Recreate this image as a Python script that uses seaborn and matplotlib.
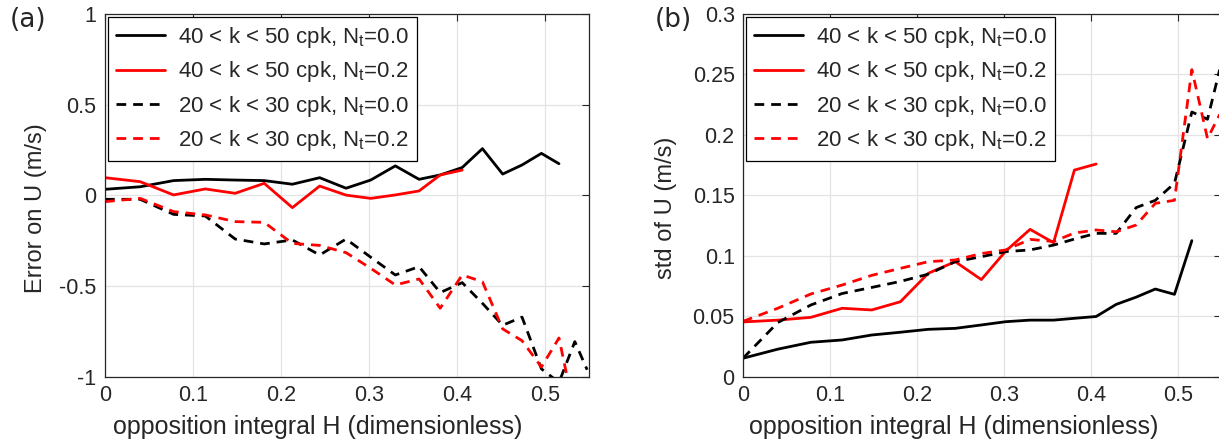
import matplotlib
matplotlib.use("Agg")
import matplotlib.pyplot as plt
import seaborn as sns

# H bin centres (opposition integral)
h_grid = [0.0, 0.040, 0.078, 0.114, 0.148, 0.181, 0.213, 0.244, 0.274, 0.302, 0.330,
          0.357, 0.381, 0.406, 0.429, 0.452, 0.474, 0.496, 0.516, 0.534, 0.548]

# (a) error on U
err_k40_n0 = [0.034, 0.048, 0.082, 0.089, 0.085, 0.082, 0.062, 0.098, 0.040, 0.085, 0.163,
              0.089, 0.113, 0.154, 0.258, 0.118, 0.168, 0.232, 0.175]
err_k40_n2 = [0.098, 0.076, 0.003, 0.036, 0.012, 0.067, -0.067, 0.052, 0.002, -0.016, 0.003,
              0.025, 0.113, 0.140]
err_k20_n0 = [-0.021, -0.021, -0.104, -0.113, -0.240, -0.267, -0.245, -0.328, -0.240, -0.340,
              -0.438, -0.392, -0.535, -0.480, -0.594, -0.715, -0.670, -0.955, -1.03, -0.805, -0.96]
err_k20_n2 = [-0.034, -0.016, -0.089, -0.107, -0.144, -0.148, -0.264, -0.275, -0.315, -0.401,
              -0.493, -0.460, -0.621, -0.438, -0.475, -0.735, -0.800, -0.945, -0.785, -1.2]

# (b) std of U
std_k40_n0 = [0.0155, 0.023, 0.0287, 0.0306, 0.0347, 0.037, 0.0394, 0.0402, 0.043, 0.0457, 0.047,
              0.047, 0.0485, 0.050, 0.060, 0.066, 0.0727, 0.0683, 0.1127]
std_k40_n2 = [0.0455, 0.047, 0.0493, 0.0568, 0.0554, 0.0622, 0.0857, 0.0953, 0.0805, 0.1040,
              0.1220, 0.1110, 0.171, 0.176]
std_k20_n0 = [0.0155, 0.045, 0.0595, 0.069, 0.074, 0.079, 0.085, 0.0953, 0.0994, 0.1036, 0.105,
              0.109, 0.114, 0.1187, 0.1187, 0.140, 0.146, 0.160, 0.219, 0.213, 0.254]
std_k20_n2 = [0.046, 0.0568, 0.0686, 0.076, 0.084, 0.0898, 0.0953, 0.0967, 0.102, 0.105, 0.1137,
              0.112, 0.119, 0.1215, 0.120, 0.1256, 0.1435, 0.146, 0.254, 0.197, 0.217]

labels = ["40 < k < 50 cpk, N$_\\mathregular{t}$=0.0",
          "40 < k < 50 cpk, N$_\\mathregular{t}$=0.2",
          "20 < k < 30 cpk, N$_\\mathregular{t}$=0.0",
          "20 < k < 30 cpk, N$_\\mathregular{t}$=0.2"]

sns.set_theme(style="white")
plt.rcParams["font.family"] = ["Liberation Sans", "DejaVu Sans"]
plt.rcParams["mathtext.fontset"] = "custom"
plt.rcParams["mathtext.rm"] = "Liberation Sans"

styles = [("black", "-"), ("red", "-"), ("black", (0, (3.5, 2.5))), ("red", (0, (3.5, 2.5)))]

fig = plt.figure(figsize=(12.19, 4.46), dpi=100)
ax1 = fig.add_axes([0.0861, 0.1547, 0.397, 0.814])
ax2 = fig.add_axes([0.6095, 0.1547, 0.3925, 0.814])


def draw_panel(ax, series, ylim, yticks, yticklabels, ylabel, ylab_x):
    for vals, (col, ls), lab in zip(series, styles, labels):
        sns.lineplot(x=h_grid[:len(vals)], y=vals, ax=ax, color=col, linestyle=ls,
                     linewidth=2.0, label=lab, estimator=None, sort=False)
    ax.set_xlim(0, 0.55)
    ax.set_ylim(*ylim)
    ax.set_xticks([0, 0.1, 0.2, 0.3, 0.4, 0.5])
    ax.set_xticklabels(["0", "0.1", "0.2", "0.3", "0.4", "0.5"])
    ax.set_yticks(yticks)
    ax.set_yticklabels(yticklabels)
    ax.grid(True, color="#e3e3e3", linewidth=0.9)
    ax.tick_params(direction="in", length=5, width=0.8, top=True, right=True,
                   labelsize=15.5, colors="#262626", pad=6)
    for sp in ax.spines.values():
        sp.set_color("#262626")
        sp.set_linewidth(0.9)
    ax.set_xlabel("opposition integral H (dimensionless)", fontsize=18, color="#262626")
    ax.xaxis.set_label_coords(0.44, -0.105)
    ax.set_ylabel(ylabel, fontsize=17, color="#262626")
    ax.yaxis.set_label_coords(ylab_x, 0.465)
    leg = ax.legend(loc="upper left", fontsize=16, frameon=True, fancybox=False,
                    borderaxespad=0.15, handlelength=2.2, labelspacing=0.42,
                    borderpad=0.35, handletextpad=0.6)
    leg.get_frame().set_edgecolor("black")
    leg.get_frame().set_linewidth(0.9)
    leg.get_frame().set_alpha(1)


draw_panel(ax1, [err_k40_n0, err_k40_n2, err_k20_n0, err_k20_n2], (-1, 1),
           [-1, -0.5, 0, 0.5, 1], ["-1", "-0.5", "0", "0.5", "1"], "Error on U (m/s)", -0.12)
draw_panel(ax2, [std_k40_n0, std_k40_n2, std_k20_n0, std_k20_n2], (0, 0.3),
           [0, 0.05, 0.1, 0.15, 0.2, 0.25, 0.3],
           ["0", "0.05", "0.1", "0.15", "0.2", "0.25", "0.3"], "std of U (m/s)", -0.137)

fig.text(0.008, 0.94, "(a)", fontsize=19, family="DejaVu Sans", color="#262626")
fig.text(0.537, 0.94, "(b)", fontsize=19, family="DejaVu Sans", color="#262626")

fig.savefig("out.png", dpi=100)
